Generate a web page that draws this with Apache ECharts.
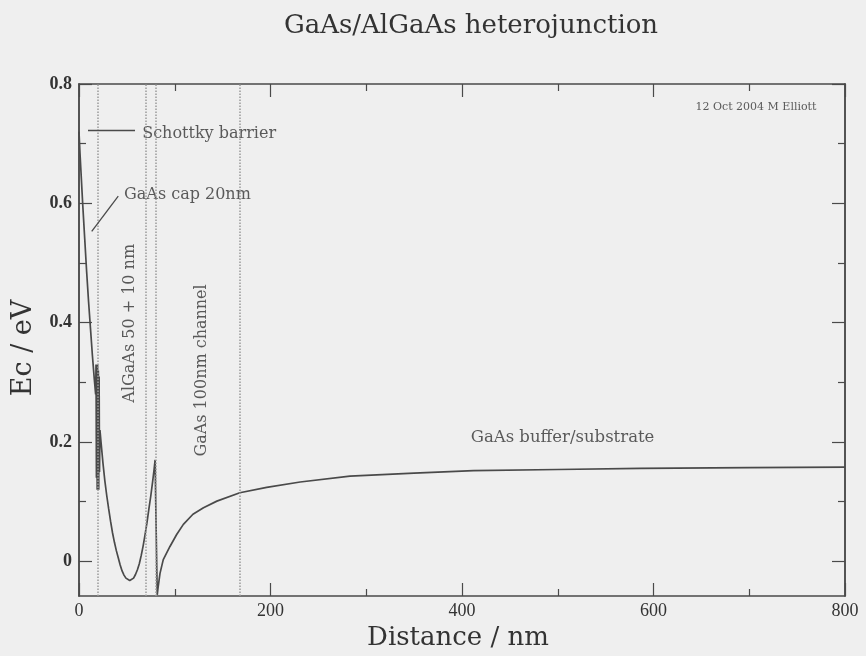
<!DOCTYPE html>
<html>
<head>
<meta charset="utf-8">
<title>GaAs/AlGaAs heterojunction</title>
<script src="https://cdn.jsdelivr.net/npm/echarts@6/dist/echarts.min.js"></script>
<style>
  html, body { margin: 0; padding: 0; background: #efefef; }
  #chart { width: 866px; height: 656px; }
</style>
</head>
<body>
<div id="chart"></div>
<script>
// conduction band edge
const distance = [
  0, 1, 2, 4, 6, 8, 10, 12, 14, 16, 17.4,
  17.8, 18.2, 18.6, 19.0, 19.4, 19.8, 20.2, 20.6, 21.0, 21.4, 21.9,
  23, 25, 27, 29, 31, 33, 35, 37, 39, 41, 43, 45, 47, 49, 51, 53, 55, 57, 59,
  61, 63, 65, 67, 69, 71, 73, 75, 77, 78.5, 79.5, 80.5, 81.7,
  82.5, 84.6, 88, 95, 102, 109, 119, 130, 144, 168, 196, 231, 283,
  350, 412, 500, 586, 700, 800
];
const energy = [
  0.72, 0.685, 0.655, 0.595, 0.54, 0.485, 0.435, 0.39, 0.345, 0.305, 0.28,
  0.33, 0.14, 0.32, 0.12, 0.33, 0.13, 0.32, 0.12, 0.31, 0.15, 0.22,
  0.20, 0.165, 0.135, 0.11, 0.088, 0.067, 0.048, 0.032, 0.018, 0.006, -0.006, -0.016, -0.023, -0.028, -0.031, -0.032, -0.031, -0.028, -0.022,
  -0.014, -0.004, 0.01, 0.026, 0.045, 0.065, 0.088, 0.11, 0.135, 0.155, 0.17, 0.06, -0.056,
  -0.045, -0.02, 0.003, 0.025, 0.045, 0.062, 0.079, 0.09, 0.101, 0.115, 0.124, 0.133, 0.143,
  0.148, 0.152, 0.154, 0.156, 0.157, 0.158
];

// layer boundaries (nm), drawn as dotted lines
const layerEdges = [20, 70, 80, 168];

const yMajorTicks = [0, 0.2, 0.4, 0.6, 0.8];
const yMinorTicks = [0.1, 0.3, 0.5, 0.7];

// annotations, in data coordinates
const notes = [
  { text: 'Schottky barrier', x: 66, y: 0.717, align: 'left', rotate: 0, size: 16 },
  { text: 'GaAs cap 20nm', x: 47, y: 0.614, align: 'left', rotate: 0, size: 16 },
  { text: 'AlGaAs 50 + 10 nm', x: 53.3, y: 0.399, align: 'center', rotate: 90, size: 16 },
  { text: 'GaAs 100nm channel', x: 128.5, y: 0.32, align: 'center', rotate: 90, size: 16 },
  { text: 'GaAs buffer/substrate', x: 505, y: 0.207, align: 'center', rotate: 0, size: 16.5 },
  { text: '12 Oct 2004 M Elliott', x: 707, y: 0.761, align: 'center', rotate: 0, size: 11 }
];
// leader lines from the labels to the curve
const leaders = [
  [[9.4, 0.722], [58.5, 0.722]],
  [[13.3, 0.553], [41, 0.612]]
];

const ink = '#4a4a4a';
const serif = 'DejaVu Serif';
const yMin = -0.058;

const chart = echarts.init(document.getElementById('chart'));

const frameX = (pos, labels) => ({
  type: 'value',
  position: pos,
  min: 0,
  max: 800,
  interval: 200,
  axisLine: { show: true, onZero: false, lineStyle: { color: ink, width: 1.5 } },
  axisTick: { show: true, inside: true, length: 13, lineStyle: { color: ink, width: 1.2 } },
  minorTick: { show: true, splitNumber: 2, length: 7, lineStyle: { color: ink, width: 1.2 } },
  axisLabel: {
    show: labels,
    margin: 6,
    fontFamily: 'Liberation Serif',
    fontSize: 18,
    color: '#333'
  },
  splitLine: { show: false },
  name: labels ? 'Distance / nm' : '',
  nameLocation: 'middle',
  nameGap: 20,
  nameTextStyle: { fontFamily: serif, fontSize: 26, color: '#333', padding: [0, 8, 0, 0] }
});

const frameY = (pos, ticks, len, labels) => ({
  type: 'value',
  position: pos,
  min: yMin,
  max: 0.8,
  axisLine: { show: true, onZero: false, lineStyle: { color: ink, width: 1.5 } },
  axisTick: { show: true, inside: true, length: len, customValues: ticks, lineStyle: { color: ink, width: 1.2 } },
  axisLabel: {
    show: labels,
    customValues: ticks,
    margin: 7,
    fontFamily: 'Liberation Serif',
    fontWeight: 'bold',
    fontSize: 18,
    color: '#333'
  },
  splitLine: { show: false },
  name: labels ? 'Ec / eV' : '',
  nameLocation: 'middle',
  nameGap: 42,
  nameTextStyle: { fontFamily: serif, fontSize: 27, color: '#333', padding: [0, 16, 0, 0] }
});

const option = {
  backgroundColor: '#efefef',
  animation: false,
  title: {
    text: 'GaAs/AlGaAs heterojunction',
    left: 466,
    top: 8,
    textAlign: 'center',
    textStyle: { fontFamily: serif, fontSize: 26, fontWeight: 'normal', color: '#333' }
  },
  grid: { left: 79, right: 21, top: 84, bottom: 60 },
  xAxis: [frameX('bottom', true), frameX('top', false)],
  yAxis: [
    frameY('left', yMajorTicks, 13, true),
    frameY('left', yMinorTicks, 7, false),
    frameY('right', yMajorTicks, 13, false),
    frameY('right', yMinorTicks, 7, false)
  ],
  series: [
    {
      name: 'Ec',
      type: 'line',
      data: distance.map((d, i) => [d, energy[i]]),
      showSymbol: false,
      lineStyle: { color: ink, width: 1.7 },
      z: 3,
      markLine: {
        silent: true,
        symbol: 'none',
        label: { show: false },
        lineStyle: { color: '#9a9a9a', type: 'dotted', width: 1.5 },
        data: layerEdges.map(v => ({ xAxis: v }))
      }
    },
    {
      name: 'leaders',
      type: 'line',
      data: [],
      markLine: {
        silent: true,
        symbol: 'none',
        label: { show: false },
        lineStyle: { color: ink, type: 'solid', width: 1.3 },
        data: leaders.map(l => [{ coord: l[0] }, { coord: l[1] }])
      }
    },
    {
      name: 'notes',
      type: 'scatter',
      symbolSize: 0,
      silent: true,
      data: notes.map(n => ({
        value: [n.x, n.y],
        label: {
          show: true,
          formatter: n.text,
          position: n.align === 'left' ? 'right' : 'inside',
          distance: 0,
          rotate: n.rotate,
          fontFamily: serif,
          fontSize: n.size,
          color: '#333'
        }
      }))
    }
  ]
};

chart.setOption(option);
</script>
</body>
</html>
